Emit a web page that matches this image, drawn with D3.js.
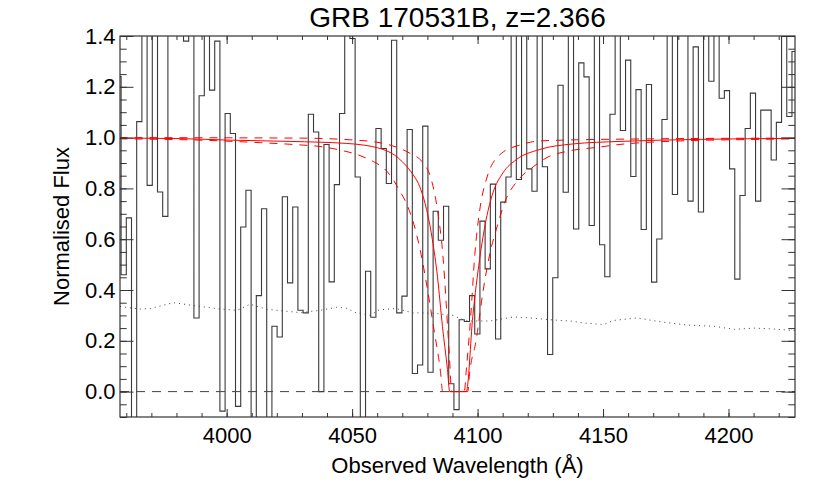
<!DOCTYPE html>
<html>
<head>
<meta charset="utf-8">
<script src="https://cdnjs.cloudflare.com/ajax/libs/d3/7.8.5/d3.min.js"></script>
<style>
  body { margin: 0; background: #fff; }
  text { font-family: "Liberation Sans", Arial, Helvetica, sans-serif; fill: #000; }
</style>
</head>
<body>
<div id="chart"></div>
<script>
// observed spectrum: first bin centre, bin width (A) and normalised flux per bin
// (values beyond the plot range are clipped by the frame)
let fluxStart = 3956.9;
let fluxStep = 2.0725;
let flux = [
  1.24, 0.46, 0.684, -0.2, 1.063, 1.6, 0.812, 1.6, 0.786, 0.69,
  1.6, 1.6, 1.6, 1.38, 1.6, 0.29, 1.165, 1.6, 1.187, 1.38,
  -0.077, 1.095, 1.016, -0.058, 0.648, 0.793, -0.2, 0.378, 0.72, -0.2,
  0.257, 0.215, 0.767, 0.428, 0.727, 0.32, 0.31, 1.092, 1.022, 0.0,
  0.973, 0.432, 0.815, 1.095, 1.6, 1.39, 0.845, -0.2, 0.474, 0.293,
  1.036, 0.957, 0.819, 1.383, 0.31, 0.376, 1.032, 0.071, 0.105, 1.045,
  0.076, 0.71, 0.596, 0.73, 0.031, -0.071, 0.283, 0.276, 0.378, 0.227,
  0.671, 0.483, 0.817, 0.207, 0.746, 0.845, 1.6, 0.835, 1.6, 0.877,
  0.789, 1.6, 0.885, 0.146, 0.448, 1.206, 0.785, 1.6, 0.64, 1.294,
  1.239, 0.654, 1.6, 0.578, 0.452, 1.092, 1.6, 1.028, 1.305, 0.847,
  1.189, 0.638, 1.209, 0.431, 0.601, 1.071, 1.6, 0.776, 1.6, 1.6,
  0.75, 1.357, 0.707, 1.6, 1.222, 1.6, 1.155, 1.185, 0.877, 0.443,
  0.772, 1.036, 1.175, 0.75, 1.108, 1.108, 0.912, 1.06, 1.6, 1.083,
  1.339
];

// error spectrum (dotted)
let errWave = [3957.5, 3965.5, 3969.5, 3978.8, 3988.1, 3997.4, 4004.1, 4009.4, 4016.0, 4029.3,
  4037.3, 4043.9, 4047.6, 4051.6, 4057.2, 4060.8, 4067.5, 4074.2, 4082.2, 4090.2,
  4094.2, 4097.0, 4105.0, 4114.3, 4121.0, 4128.9, 4138.0, 4142.2, 4150.2, 4154.2,
  4163.5, 4172.8, 4183.4, 4194.3, 4202.3, 4210.2, 4216.9, 4226.5];
let errFlux = [0.335, 0.325, 0.327, 0.35, 0.337, 0.325, 0.32, 0.344, 0.324, 0.311,
  0.32, 0.332, 0.329, 0.31, 0.3, 0.322, 0.327, 0.31, 0.309, 0.3,
  0.283, 0.278, 0.278, 0.294, 0.29, 0.283, 0.277, 0.27, 0.264, 0.28,
  0.29, 0.275, 0.262, 0.257, 0.245, 0.25, 0.247, 0.24];

// best fit absorption model (solid red)
let fitWave = [3957.3, 3981.5, 4001.4, 4025.3, 4047.9, 4055.0, 4060.1, 4063.5, 4066.8, 4070.0,
  4073.4, 4077.4, 4080.0, 4082.0, 4084.0, 4086.0, 4088.0, 4088.9, 4095.5, 4098.1,
  4100.8, 4103.4, 4106.1, 4110.1, 4115.4, 4124.7, 4138.0, 4156.8, 4188.7, 4226.6];
let fitFlux = [0.998, 0.996, 0.99, 0.985, 0.977, 0.97, 0.96, 0.949, 0.932, 0.905,
  0.866, 0.795, 0.703, 0.598, 0.454, 0.257, 0.087, 0.0, 0.0, 0.297,
  0.52, 0.677, 0.782, 0.861, 0.913, 0.953, 0.975, 0.985, 0.993, 0.997];

// upper column density bound (wide dashed)
let highWave = [3957.3, 3989.4, 4013.4, 4028.1, 4038.1, 4045.2, 4052.4, 4058.4, 4061.2, 4064.0,
  4066.2, 4068.4, 4071.9, 4074.7, 4077.5, 4079.9, 4082.7, 4085.2, 4086.1, 4096.1,
  4096.8, 4099.4, 4102.1, 4104.7, 4107.8, 4111.0, 4116.2, 4122.2, 4128.1, 4135.7,
  4148.9, 4155.6, 4164.0, 4180.8, 4204.7, 4226.6];
let highFlux = [0.995, 0.99, 0.98, 0.972, 0.964, 0.951, 0.932, 0.906, 0.89, 0.866,
  0.837, 0.8, 0.735, 0.656, 0.54, 0.41, 0.24, 0.08, 0.0, 0.0,
  0.07, 0.2, 0.39, 0.534, 0.65, 0.75, 0.833, 0.885, 0.924, 0.946,
  0.963, 0.972, 0.979, 0.987, 0.992, 0.995];

// lower column density bound (narrow dashed)
let lowWave = [3957.3, 4029.3, 4051.2, 4059.2, 4066.0, 4072.7, 4078.3, 4081.5, 4084.2, 4086.2,
  4087.5, 4088.7, 4089.7, 4094.7, 4095.5, 4097.3, 4098.9, 4100.8, 4103.8, 4109.4,
  4117.0, 4123.8, 4134.1, 4168.8, 4226.6];
let lowFlux = [1.0, 0.998, 0.99, 0.983, 0.968, 0.94, 0.9, 0.837, 0.703, 0.534,
  0.345, 0.152, 0.0, 0.0, 0.085, 0.3, 0.54, 0.71, 0.845, 0.937,
  0.971, 0.986, 0.99, 0.995, 0.998];

// tick values
let xMajorTicks = [4000, 4050, 4100, 4150, 4200];
let xMinorTicks = d3.range(3960, 4230, 10);
let yMajorTicks = [0.0, 0.2, 0.4, 0.6, 0.8, 1.0, 1.2, 1.4];
let yMinorTicks = d3.range(-0.1, 1.401, 0.05);

let svgWidth = 830;
let svgHeight = 493;

let margin = {
  top: 36,
  right: 35,
  bottom: 76,
  left: 120
};

let width = svgWidth - margin.left - margin.right;
let height = svgHeight - margin.top - margin.bottom;

let svg = d3.select('#chart')
  .append('svg')
  .attr('width', svgWidth)
  .attr('height', svgHeight);

let chartGroup = svg.append('g')
  .attr('transform', `translate(${margin.left}, ${margin.top})`);

// scales
let xScale = d3.scaleLinear()
  .domain([3957.5, 4226.5])
  .range([0, width]);

let yScale = d3.scaleLinear()
  .domain([-0.1, 1.4])
  .range([height, 0]);

// clip everything to the frame
chartGroup.append('clipPath')
  .attr('id', 'plotClip')
  .append('rect')
  .attr('width', width)
  .attr('height', height);

let plotArea = chartGroup.append('g')
  .attr('clip-path', 'url(#plotClip)');

// histogram steps: one point per bin left edge, plus the last right edge
let steps = flux.map((v, i) => [fluxStart + i * fluxStep - fluxStep / 2, v]);
steps.push([fluxStart + (flux.length - 0.5) * fluxStep, flux[flux.length - 1]]);

let stepLine = d3.line()
  .x(d => xScale(d[0]))
  .y(d => yScale(d[1]))
  .curve(d3.curveStepAfter);

plotArea.append('path')
  .datum(steps)
  .attr('d', stepLine)
  .attr('fill', 'none')
  .attr('stroke', '#3a3a3a')
  .attr('stroke-width', 1.1);

// zero level
plotArea.append('line')
  .attr('x1', 0)
  .attr('x2', width)
  .attr('y1', yScale(0))
  .attr('y2', yScale(0))
  .attr('stroke', '#444')
  .attr('stroke-width', 1)
  .attr('stroke-dasharray', '9,7');

// error spectrum
let errLine = d3.line()
  .x((d, i) => xScale(errWave[i]))
  .y(d => yScale(d));

plotArea.append('path')
  .datum(errFlux)
  .attr('d', errLine)
  .attr('fill', 'none')
  .attr('stroke', '#444')
  .attr('stroke-width', 1)
  .attr('stroke-dasharray', '1,4');

// model curves
function modelPath(waves, values, dashed) {
  let line = d3.line()
    .x((d, i) => xScale(waves[i]))
    .y(d => yScale(d))
    .curve(d3.curveMonotoneX);

  plotArea.append('path')
    .datum(values)
    .attr('d', line)
    .attr('fill', 'none')
    .attr('stroke', '#ff0000')
    .attr('stroke-width', 1)
    .attr('stroke-dasharray', dashed ? '8,7' : null);
}

modelPath(highWave, highFlux, true);
modelPath(lowWave, lowFlux, true);
modelPath(fitWave, fitFlux, false);

// axes, ticks pointing inwards on all four sides
function styleAxis(g) {
  g.select('.domain').remove();
  g.selectAll('line').attr('stroke', '#333');
  g.attr('font-size', 22).attr('font-family', '"Liberation Sans", Arial, sans-serif');
}

chartGroup.append('g')
  .attr('transform', `translate(0, ${height})`)
  .call(d3.axisBottom(xScale).tickValues(xMinorTicks).tickSize(-4).tickFormat(''))
  .call(styleAxis);

chartGroup.append('g')
  .attr('transform', `translate(0, ${height})`)
  .call(d3.axisBottom(xScale).tickValues(xMajorTicks).tickSize(-8).tickPadding(10).tickFormat(d3.format('d')))
  .call(styleAxis);

chartGroup.append('g')
  .call(d3.axisTop(xScale).tickValues(xMinorTicks).tickSize(-4).tickFormat(''))
  .call(styleAxis);

chartGroup.append('g')
  .call(d3.axisTop(xScale).tickValues(xMajorTicks).tickSize(-8).tickFormat(''))
  .call(styleAxis);

chartGroup.append('g')
  .call(d3.axisLeft(yScale).tickValues(yMinorTicks).tickSize(-6.7).tickFormat(''))
  .call(styleAxis);

chartGroup.append('g')
  .call(d3.axisLeft(yScale).tickValues(yMajorTicks).tickSize(-13.5).tickPadding(4.5).tickFormat(d3.format('.1f')))
  .call(styleAxis);

chartGroup.append('g')
  .attr('transform', `translate(${width}, 0)`)
  .call(d3.axisRight(yScale).tickValues(yMinorTicks).tickSize(-6.7).tickFormat(''))
  .call(styleAxis);

chartGroup.append('g')
  .attr('transform', `translate(${width}, 0)`)
  .call(d3.axisRight(yScale).tickValues(yMajorTicks).tickSize(-13.5).tickFormat(''))
  .call(styleAxis);

// frame
chartGroup.append('rect')
  .attr('width', width)
  .attr('height', height)
  .attr('fill', 'none')
  .attr('stroke', '#333')
  .attr('stroke-width', 1.2);

// title and axis labels
svg.append('text')
  .attr('x', margin.left + width / 2)
  .attr('y', 27)
  .attr('text-anchor', 'middle')
  .attr('font-size', '28px')
  .text('GRB 170531B, z=2.366');

svg.append('text')
  .attr('x', margin.left + width / 2)
  .attr('y', 473)
  .attr('text-anchor', 'middle')
  .attr('font-size', '22px')
  .text('Observed Wavelength (Å)');

svg.append('text')
  .attr('transform', `translate(69, ${margin.top + height / 2}) rotate(-90)`)
  .attr('text-anchor', 'middle')
  .attr('font-size', '22px')
  .text('Normalised Flux');
</script>
</body>
</html>
